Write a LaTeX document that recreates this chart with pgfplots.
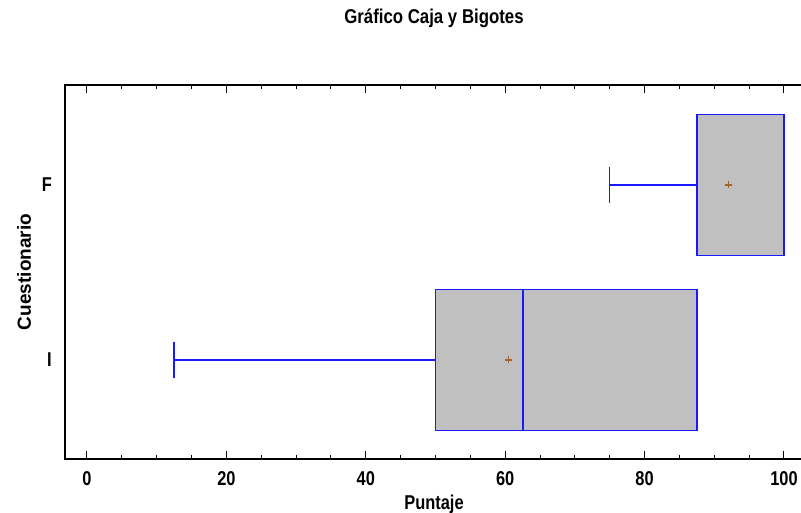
\documentclass[border=0pt]{standalone}
\usepackage{pgfplots}
\pgfplotsset{compat=1.18}
\usepgfplotslibrary{statistics}
\usepackage{fontspec}
\setmainfont{Liberation Sans}[FakeStretch=0.82]
\newfontfamily\titlefont{Liberation Sans}[FakeStretch=0.84]
\newfontfamily\widefont{Liberation Sans}
\definecolor{boxblue}{RGB}{25,25,255}
\definecolor{boxgray}{RGB}{192,192,192}
\definecolor{meanc}{RGB}{170,95,35}
\begin{document}
\begin{tikzpicture}[x=1pt,y=1pt]
\useasboundingbox (0,0) rectangle (801,513);
\begin{axis}[
  at={(65pt,54pt)}, anchor=south west,
  scale only axis, width=738pt, height=374pt,
  xmin=-3.156, xmax=102.73, ymin=0.434, ymax=2.571,
  axis line style={line width=1.2pt},
  xtick={0,20,...,100}, minor x tick num=3,
  major tick length=8pt, minor tick length=4pt,
  tick style={black, line width=1pt},
  tick align=inside,
  ytick={1,2}, yticklabels={I,F},
  ytick style={draw=none},
  font=\fontsize{20}{22}\selectfont\bfseries,
  /pgf/number format/assume math mode=true,
  x tick label style={anchor=base, yshift=-27pt, inner sep=0pt},
  y tick label style={anchor=east, xshift=-13pt, inner sep=0pt},
  title={Gráfico Caja y Bigotes},
  title style={at={([yshift=55pt]axis description cs:0.5,1)}, anchor=base, inner sep=0pt, font=\titlefont\fontsize{20}{22}\selectfont\bfseries},
  xlabel={Puntaje},
  xlabel style={at={([yshift=-51pt]axis description cs:0.5,0)}, anchor=base, inner sep=0pt, font=\fontsize{20}{22}\selectfont\bfseries},
  ylabel={Cuestionario},
  ylabel style={at={([xshift=-41pt]axis description cs:0,0.5)}, anchor=center, rotate=0, inner sep=0pt, font=\widefont\fontsize{19}{21}\selectfont\bfseries},
  boxplot/every box/.style={draw=boxblue, fill=boxgray, line width=1.5pt},
  boxplot/every whisker/.style={draw=boxblue, line width=1.5pt},
  boxplot/every median/.style={draw=boxblue, line width=1.8pt},
]
\addplot[boxplot prepared={draw position=1, lower whisker=12.5, lower quartile=50, median=62.5, upper quartile=87.5, upper whisker=87.5, box extend=0.806, whisker extend=0.206}, draw=boxblue, line width=1.5pt, solid, mark=none] coordinates {};
\addplot[boxplot prepared={draw position=2, lower whisker=75, lower quartile=87.5, median=100, upper quartile=100, upper whisker=100, box extend=0.806, whisker extend=0.206}, draw=boxblue, line width=1.5pt, solid, mark=none] coordinates {};
\addplot[only marks, mark=+, mark size=3.5pt, meanc, line width=1.2pt] coordinates {(60.5,1) (92,2)};
\end{axis}
\end{tikzpicture}
\end{document}
